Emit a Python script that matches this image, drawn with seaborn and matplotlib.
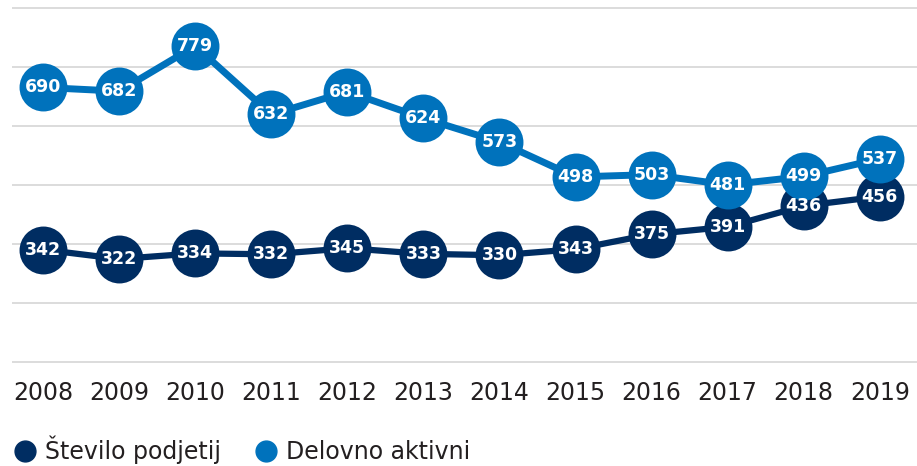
import matplotlib
matplotlib.use("Agg")
import matplotlib.pyplot as plt
from matplotlib.lines import Line2D
import seaborn as sns
import numpy as np
import pandas as pd

# data
years = [2008, 2009, 2010, 2011, 2012, 2013, 2014, 2015, 2016, 2017, 2018, 2019]
podjetja = [342, 322, 334, 332, 345, 333, 330, 343, 375, 391, 436, 456]
aktivni = [690, 682, 779, 632, 681, 624, 573, 498, 503, 481, 499, 537]
series_names = ["Število podjetij", "Delovno aktivni"]

DARK = "#002d62"
LIGHT = "#0072bc"
TEXT = "#231f20"

df = pd.DataFrame({"Leto": years, series_names[0]: podjetja, series_names[1]: aktivni})

sns.set_theme(style="white")
plt.rcParams["font.family"] = ["DejaVu Sans"]

fig = plt.figure(figsize=(9.17, 4.66), dpi=100)
ax = fig.add_axes([12 / 917, 1 - 370 / 466, 905 / 917, 370 / 466])

# Delovno aktivni on top, as in the reference
sns.lineplot(data=df, x="Leto", y=series_names[0], ax=ax, color=DARK, linewidth=4.5,
             marker="o", markersize=34.5, markeredgewidth=0, zorder=2)
sns.lineplot(data=df, x="Leto", y=series_names[1], ax=ax, color=LIGHT, linewidth=5,
             marker="o", markersize=34.5, markeredgewidth=0, zorder=3)

for x, v in zip(years, podjetja):
    ax.text(x, v, str(v), color="white", fontsize=12.5, fontweight="bold",
            ha="center", va="center", zorder=4)
for x, v in zip(years, aktivni):
    ax.text(x, v, str(v), color="white", fontsize=12.5, fontweight="bold",
            ha="center", va="center", zorder=5)

for line in ax.lines:
    line.set_clip_on(False)

grid_vals = np.linspace(100, 860, 7)
for g in grid_vals:
    ax.axhline(g, color="#d9d9d9", linewidth=1.3, zorder=0)

ax.set_ylim(83.7, 877.7)
ax.set_xlim(2007.59, 2019.49)
ax.set_yticks([])
ax.set_xticks(years)
ax.set_xticklabels([str(y) for y in years], fontsize=17, color=TEXT)
ax.tick_params(axis="x", length=0, pad=8)
ax.set_xlabel("")
ax.set_ylabel("")
for s in ax.spines.values():
    s.set_visible(False)

handles = [Line2D([], [], linestyle="none", marker="o", markersize=15, color=DARK),
           Line2D([], [], linestyle="none", marker="o", markersize=15, color=LIGHT)]
fig.legend(handles, series_names, loc="center left", bbox_to_anchor=(0.0, 1 - 450 / 466),
           ncol=2, frameon=False, fontsize=17, handlelength=0.7, handletextpad=0.5,
           columnspacing=1.55, borderaxespad=0.3, labelcolor=TEXT)

fig.savefig("out.png", dpi=100)
